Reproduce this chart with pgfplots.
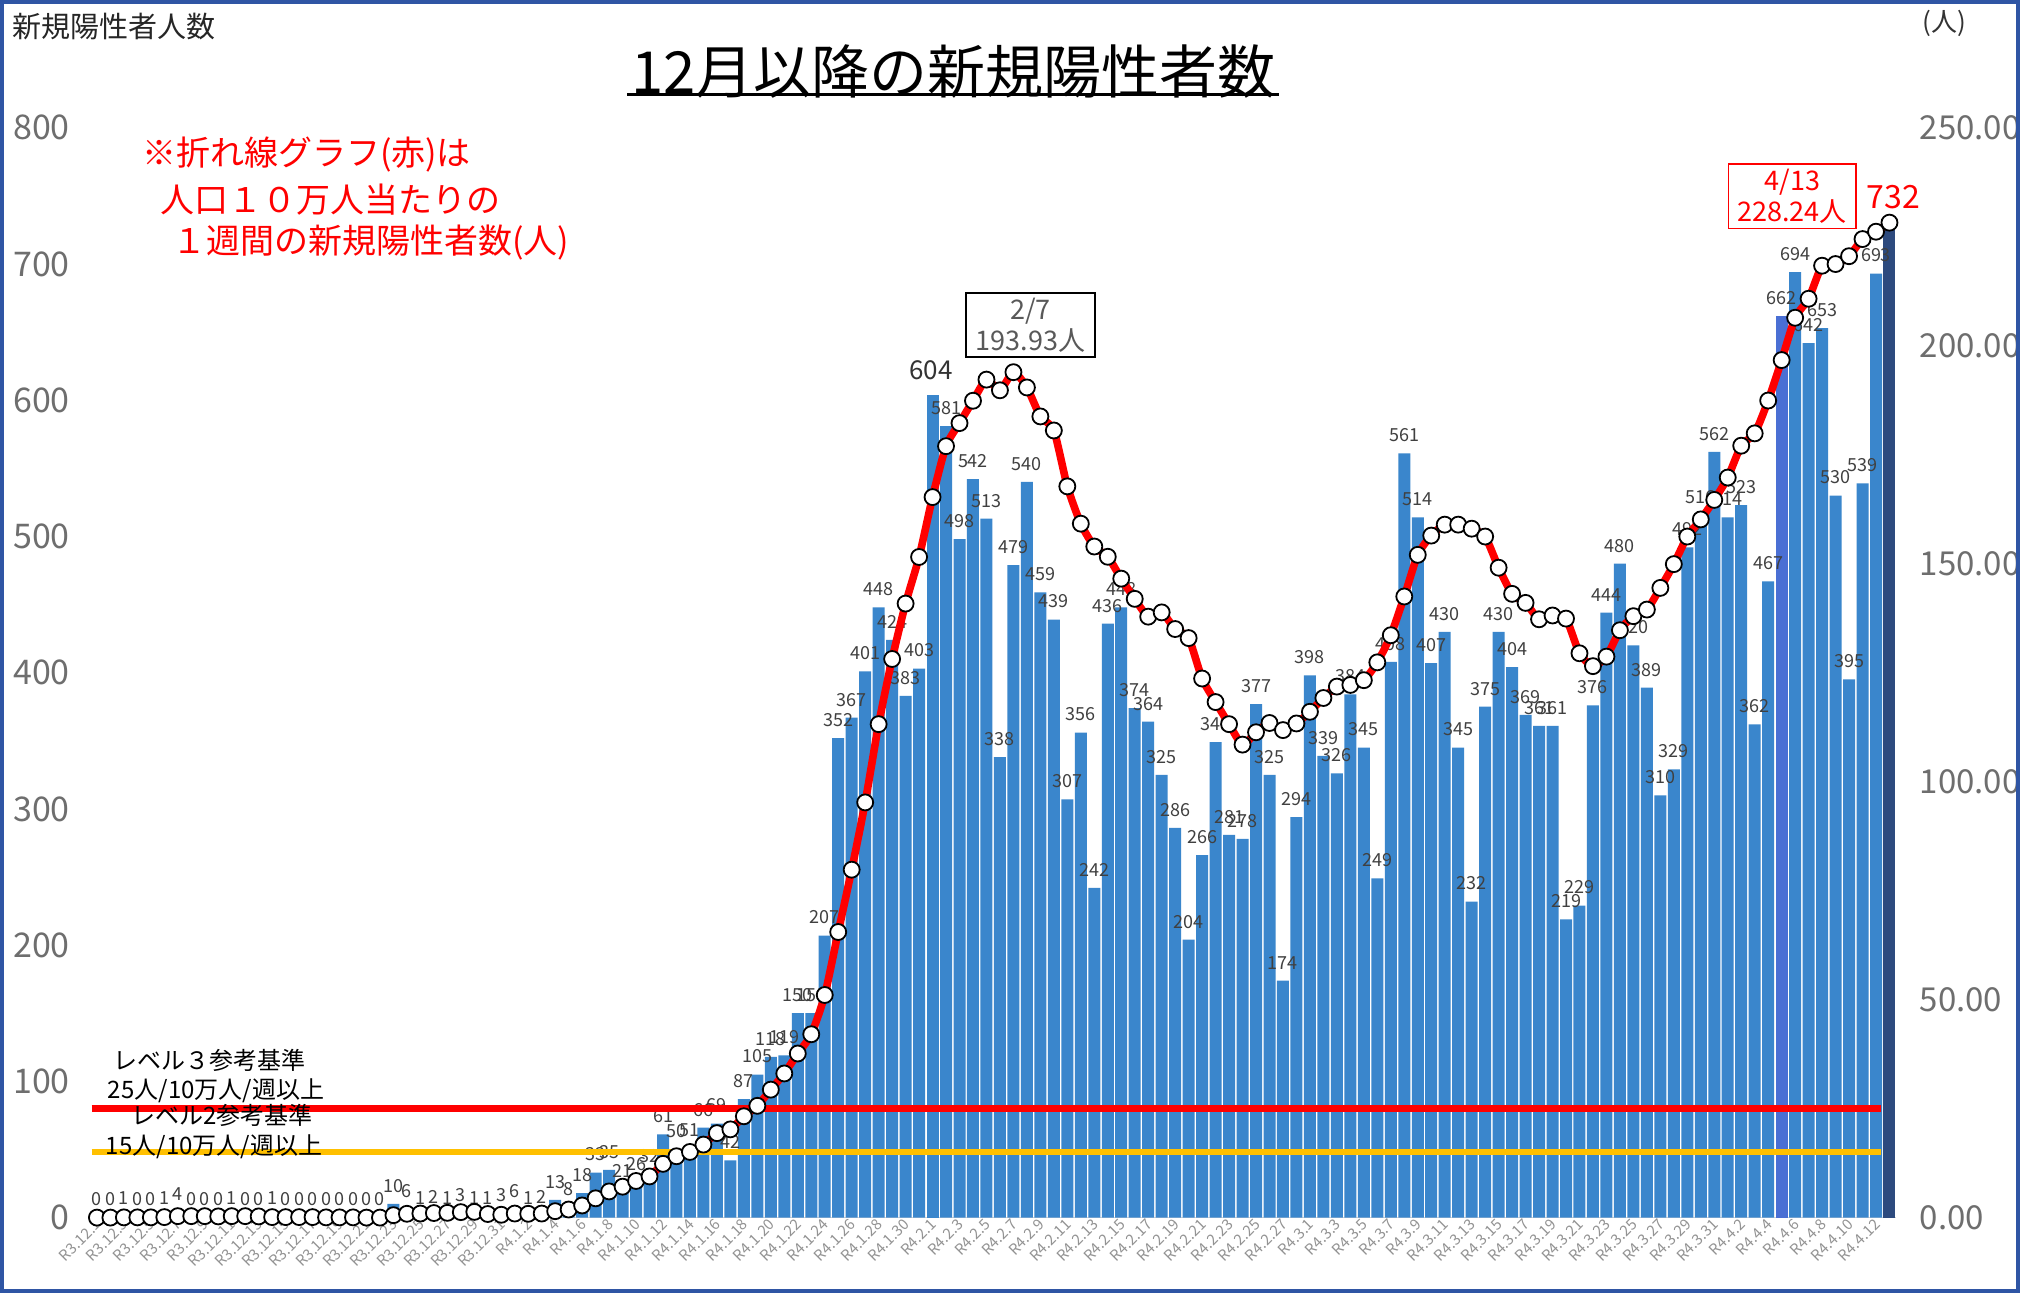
\documentclass[border=0pt]{standalone}
\usepackage{fontspec}
\setmainfont{Noto Sans CJK JP}
\usepackage{pgfplots}
\usepackage{pgfplotstable}
\pgfplotsset{compat=1.18}
\definecolor{barblue}{HTML}{3A86CC}
\definecolor{barnavy}{HTML}{2D4A7E}
\definecolor{barviolet}{HTML}{4A6FD4}
\definecolor{lvlyellow}{HTML}{FFC000}
\definecolor{tickgray}{HTML}{6E6E6E}
\definecolor{frameblue}{HTML}{2F55A4}
\definecolor{lblgray}{HTML}{404040}

\pgfplotstableread{
x y
1 0
2 0
3 1
4 0
5 0
6 1
7 4
8 0
9 0
10 0
11 1
12 0
13 0
14 1
15 0
16 0
17 0
18 0
19 0
20 0
21 0
22 0
23 10
24 6
25 1
26 2
27 1
28 3
29 1
30 1
31 3
32 6
33 1
34 2
35 13
36 8
37 18
38 33
39 35
40 21
41 26
42 32
43 61
44 50
45 51
46 66
47 69
48 42
49 87
50 105
51 118
52 119
53 150
54 150
55 207
56 352
57 367
58 401
59 448
60 424
61 383
62 403
64 581
65 498
66 542
67 513
68 338
69 479
70 540
71 459
72 439
73 307
74 356
75 242
76 436
77 448
78 374
79 364
80 325
81 286
82 204
83 266
84 349
85 281
86 278
87 377
88 325
89 174
90 294
91 398
92 339
93 326
94 384
95 345
96 249
97 408
98 561
99 514
100 407
101 430
102 345
103 232
104 375
105 430
106 404
107 369
108 361
109 361
110 219
111 229
112 376
113 444
114 480
115 420
116 389
117 310
118 329
119 492
120 516
121 562
122 514
123 523
124 362
125 467
127 694
128 642
129 653
130 530
131 395
132 539
133 693
}\bardata

\pgfplotstableread{
x v
1 0
2 0
3 0.05
4 0.05
5 0.05
6 0.11
7 0.33
8 0.33
9 0.33
10 0.27
11 0.33
12 0.33
13 0.27
14 0.11
15 0.11
16 0.11
17 0.11
18 0.05
19 0.05
20 0.05
21 0
22 0
23 0.55
24 0.87
25 0.93
26 1.04
27 1.09
28 1.25
29 1.31
30 0.82
31 0.65
32 0.93
33 0.87
34 0.93
35 1.47
36 1.85
37 2.78
38 4.42
39 6.00
40 7.09
41 8.40
42 9.44
43 12.33
44 14.07
45 15.06
46 16.75
47 19.37
48 20.24
49 23.24
50 25.64
51 29.35
52 33.06
53 37.64
54 42.06
55 51.06
56 65.51
57 79.81
58 95.24
59 113.19
60 128.14
61 140.85
62 151.54
63 165.28
64 176.96
65 182.25
66 187.38
67 192.23
68 189.78
69 193.93
70 190.43
71 183.78
72 180.56
73 167.74
74 159.18
75 153.94
76 151.59
77 146.57
78 141.94
79 137.85
80 138.83
81 135.01
82 132.94
83 123.66
84 118.26
85 113.19
86 108.50
87 111.33
88 113.46
89 111.83
90 113.35
91 116.03
92 119.19
93 121.81
94 122.19
95 123.28
96 127.37
97 133.59
98 142.48
99 152.03
100 156.45
101 158.96
102 158.96
103 158.03
104 156.23
105 149.08
106 143.08
107 141.01
108 137.25
109 138.12
110 137.41
111 129.45
112 126.50
113 128.68
114 134.74
115 137.96
116 139.48
117 144.45
118 149.90
119 156.23
120 160.16
121 164.63
122 169.76
123 177.07
124 179.90
125 187.43
126 196.71
127 206.42
128 210.78
129 218.36
130 218.74
131 220.54
132 224.47
133 226.16
134 228.24
}\linedata

\begin{document}
\begin{tikzpicture}
\useasboundingbox (0,0) rectangle (1010pt,646.5pt);
\fill[white] (0,0) rectangle (1010pt,646.5pt);
\begin{axis}[
  at={(45.1pt,37.7pt)}, anchor=south west,
  scale only axis, width=903pt, height=544.9pt,
  xmin=0.5, xmax=134.5, ymin=0, ymax=800,
  ytick={0,100,...,800},
  axis x line*=bottom, axis y line*=left,
  x axis line style={draw=gray!35, line width=0.6pt, -},
  y axis line style={draw=none},
  tick style={draw=none},
  /pgf/number format/assume math mode=true,
  yticklabel style={font=\fontsize{17}{17}\selectfont, text=tickgray, anchor=east, inner sep=0pt, xshift=-10pt},
  xtick={1,3,...,133},
  xticklabels={R3.12.1,R3.12.3,R3.12.5,R3.12.7,R3.12.9,R3.12.11,R3.12.13,R3.12.15,R3.12.17,R3.12.19,R3.12.21,R3.12.23,R3.12.25,R3.12.27,R3.12.29,R3.12.31,R4.1.2,R4.1.4,R4.1.6,R4.1.8,R4.1.10,R4.1.12,R4.1.14,R4.1.16,R4.1.18,R4.1.20,R4.1.22,R4.1.24,R4.1.26,R4.1.28,R4.1.30,R4.2.1,R4.2.3,R4.2.5,R4.2.7,R4.2.9,R4.2.11,R4.2.13,R4.2.15,R4.2.17,R4.2.19,R4.2.21,R4.2.23,R4.2.25,R4.2.27,R4.3.1,R4.3.3,R4.3.5,R4.3.7,R4.3.9,R4.3.11,R4.3.13,R4.3.15,R4.3.17,R4.3.19,R4.3.21,R4.3.23,R4.3.25,R4.3.27,R4.3.29,R4.3.31,R4.4.2,R4.4.4,R4.4.6,R4.4.8,R4.4.10,R4.4.12},
  xticklabel style={rotate=45, anchor=east, font=\fontsize{7.5}{8}\selectfont, text=gray!85, inner sep=1pt, yshift=-2pt},
  clip=false]
\addplot[ybar, bar width=6pt, fill=barblue, draw=none,
  nodes near coords,
  every node near coord/.append style={font=\fontsize{9}{9}\selectfont, text=lblgray, anchor=south, inner sep=0.5pt, yshift=5pt}]
  table[x=x,y=y]{\bardata};
\addplot[ybar, bar width=6pt, fill=barblue, draw=none] coordinates {(63,604)};
\addplot[ybar, bar width=6pt, fill=barviolet, draw=none,
  nodes near coords,
  every node near coord/.append style={font=\fontsize{9}{9}\selectfont, text=lblgray, anchor=south, inner sep=0.5pt, yshift=5pt}] coordinates {(126,662)};
\addplot[ybar, bar width=6pt, fill=barnavy, draw=none] coordinates {(134,732)};
\end{axis}

\begin{axis}[
  at={(45.1pt,37.7pt)}, anchor=south west,
  scale only axis, width=903pt, height=544.9pt,
  xmin=0.5, xmax=134.5, ymin=0, ymax=250,
  axis x line=none, axis y line*=right,
  ytick={0,50,...,250},
  axis line style={draw=none}, tick style={draw=none},
  yticklabel={\pgfmathprintnumber[fixed,fixed zerofill,precision=2,assume math mode=true]{\tick}},
  yticklabel style={font=\fontsize{16.5}{17}\selectfont, text=tickgray, anchor=west, inner sep=0pt, xshift=11.6pt},
  clip=false]
\addplot[red, line width=3.2pt] coordinates {(0.6,25) (133.4,25)};
\addplot[lvlyellow, line width=3.2pt] coordinates {(0.6,15) (133.4,15)};
\addplot[red, line width=3.8pt, smooth, tension=0.4, mark=*, mark size=4pt,
  mark options={fill=white, draw=black, line width=0.9pt, solid}]
  table[x=x,y=v]{\linedata};
\end{axis}

% level labels
\node[font=\fontsize{12}{12}\selectfont] at (104.6pt,116.3pt) {レベル３参考基準};
\node[font=\fontsize{12}{12}\selectfont] at (108pt,100.9pt) {25人/10万人/週以上};
\node[font=\fontsize{12}{12}\selectfont] at (110.9pt,88.7pt) {レベル2参考基準};
\node[font=\fontsize{12}{12}\selectfont] at (107pt,73.2pt) {15人/10万人/週以上};

% special labels
\node[font=\fontsize{13}{13}\selectfont, text=black!80] at (465.6pt,461.6pt) {604};
\node[font=\fontsize{16}{16}\selectfont, text=red] at (946.7pt,547.7pt) {732};

% boxes
\node[draw=black, line width=0.8pt, fill=white, minimum width=64.4pt, minimum height=32.2pt, align=center, inner sep=0pt,
  font=\fontsize{13.5}{15.4}\selectfont, text=black!65] at (515.2pt,484pt) {2/7\\193.93人};
\node[draw=red, line width=0.8pt, fill=white, minimum width=63.8pt, minimum height=32.2pt, align=center, inner sep=0pt,
  font=\fontsize{13.5}{15.4}\selectfont, text=red] at (896.1pt,548.4pt) {4/13\\228.24人};

% title and headers
\node[font=\fontsize{29}{29}\selectfont] at (476.6pt,610.9pt) {12月以降の新規陽性者数};
\draw[line width=1.4pt] (313.6pt,599.2pt) -- (639.6pt,599.2pt);
\node[anchor=west, font=\fontsize{14.5}{15}\selectfont, text=black!85, inner sep=0pt] at (6pt,633.4pt) {新規陽性者人数};
\node[font=\fontsize{13}{13}\selectfont, text=black!80] at (972pt,634.7pt) {(人)};

% red note
\node[anchor=west, font=\fontsize{17}{17}\selectfont, text=red, inner sep=0pt] at (70.8pt,569pt) {※折れ線グラフ(赤)は};
\node[anchor=west, font=\fontsize{17}{17}\selectfont, text=red, inner sep=0pt] at (80pt,546.6pt) {人口１０万人当たりの};
\node[anchor=west, font=\fontsize{17}{17}\selectfont, text=red, inner sep=0pt] at (86pt,525pt) {１週間の新規陽性者数(人)};

\draw[frameblue, line width=2pt] (1pt,1pt) rectangle (1009pt,645.5pt);
\end{tikzpicture}
\end{document}
